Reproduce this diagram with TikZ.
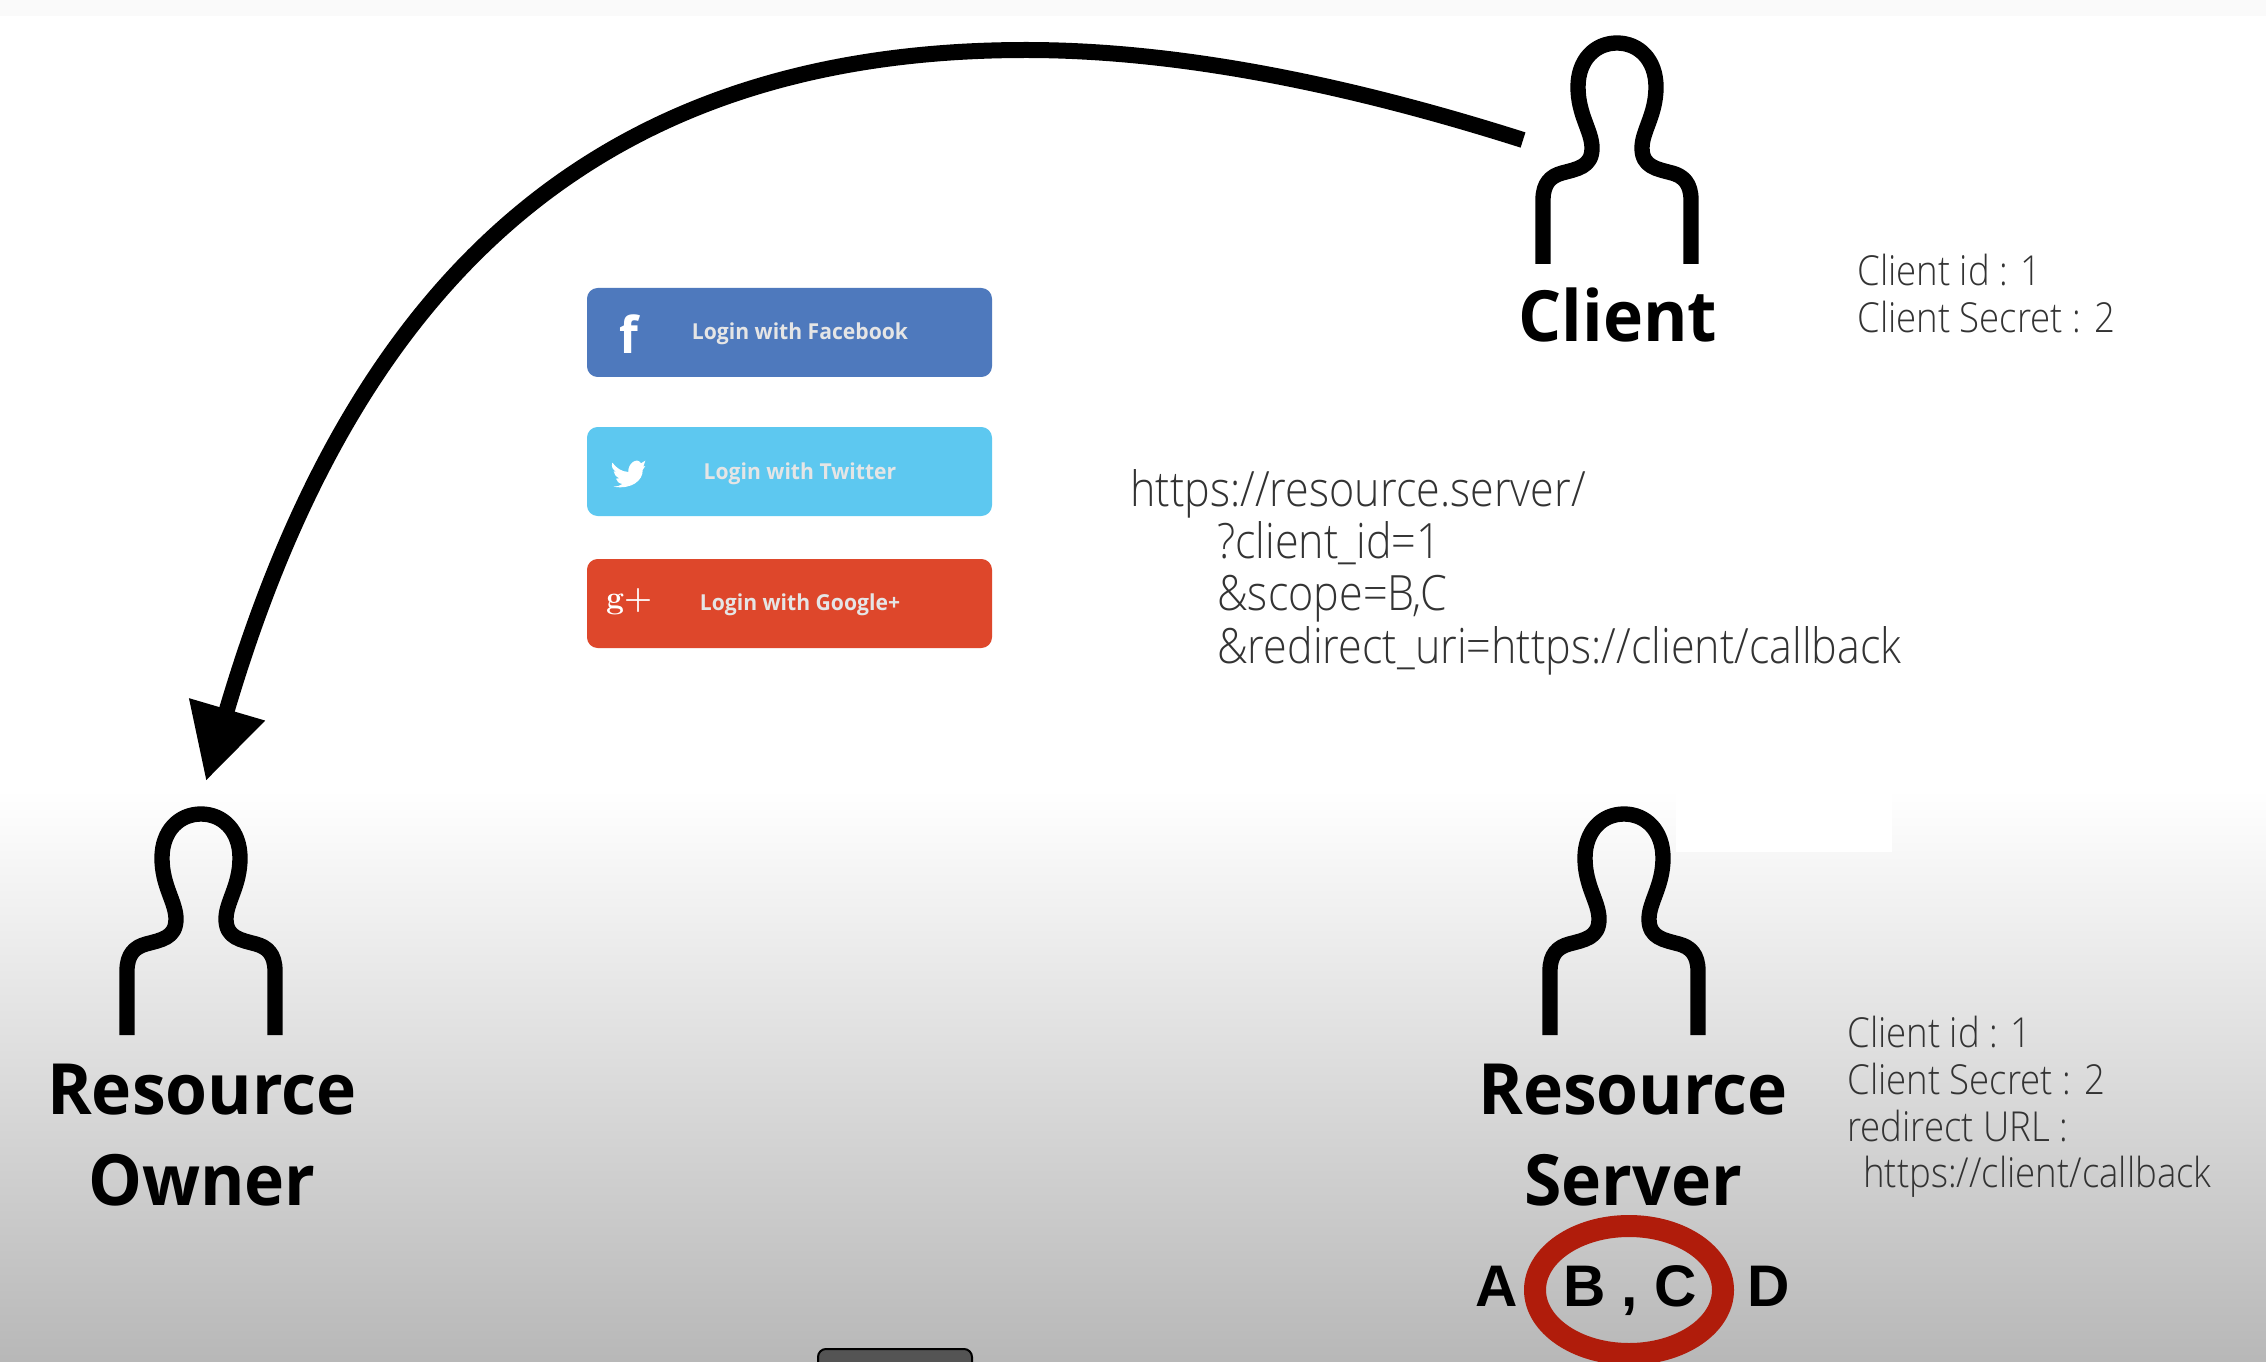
\documentclass[tikz,border=0pt]{standalone}
\usepackage{fontspec}
\usepackage{tikz}
\usetikzlibrary{arrows.meta}
\newfontfamily\headfont{Open Sans}[FakeStretch=0.96]
\newfontfamily\thinfont{Open Sans Light}[FakeStretch=0.885]
\newfontfamily\scopefont{Liberation Sans}
\newfontfamily\btnfont{Open Sans}[FakeStretch=0.96]
\definecolor{fbblue}{HTML}{4E79BD}
\definecolor{twblue}{HTML}{5DC8F0}
\definecolor{gpred}{HTML}{DE472B}
\definecolor{ringred}{HTML}{B01C0B}
\tikzset{
  person/.pic={
    \draw [line width=11.5pt,line join=round] (-74,229) -- (-74,165) .. controls (-74,148) and (-66,141) .. (-55,138) .. controls (-40,134) and (-25,132) .. (-25,113) .. controls (-25,96) and (-39,80) .. (-39,52) .. controls (-39,25) and (-22,8) .. (0,8) .. controls (22,8) and (39,25) .. (39,52) .. controls (39,80) and (25,96) .. (25,113) .. controls (25,132) and (40,134) .. (55,138) .. controls (66,141) and (74,148) .. (74,165) -- (74,229) ;
  },
  headlabel/.style={anchor=base,inner sep=0pt,font=\headfont\bfseries\fontsize{53}{60}\selectfont},
  infotext/.style={anchor=base west,inner sep=0pt,text=black!80,font=\thinfont\fontsize{31}{36}\selectfont},
  urltext/.style={anchor=base west,inner sep=0pt,text=black!80,font=\thinfont\fontsize{36.5}{40}\selectfont},
  scopeletter/.style={anchor=base,inner sep=0pt,font=\scopefont\bfseries\fontsize{44}{50}\selectfont},
  loginbtn/.style={rounded corners=8pt,draw=none},
  btntext/.style={inner sep=0pt,text=white!90!black,font=\btnfont\bfseries\fontsize{16.5}{20}\selectfont},
  btnicon/.style={inner sep=0pt,text=white,font=\btnfont\bfseries\fontsize{38}{42}\selectfont},
}
\begin{document}
\begin{tikzpicture}[x=0.75pt,y=0.75pt,yscale=-1,xscale=1]
\useasboundingbox (0,0) rectangle (2266,1362);
\clip (0,0) rectangle (2266,1362);

%Background
\fill [white] (0,0) rectangle (2266,1362);
\fill [black!2] (0,0) rectangle (2266,16);
\shade [top color=white,bottom color=black!28] (0,790) rectangle (2266,1362);
\fill [white] (1676,790) rectangle (1892,852);
\draw [line width=1.5pt,fill=black!67,rounded corners=6pt] (818,1349) rectangle (972,1390);

%Persons
\pic [yscale=-1] at (1617,35) {person};
\pic [yscale=-1] at (201,806) {person};
\pic [yscale=-1] at (1624,806) {person};

%Client to owner arrow
\coordinate (armstart) at (1523,140);
\coordinate (armtop) at (1026,50);
\coordinate (armend) at (206,781);
\draw [line width=12pt,-{Triangle[length=56pt,width=56pt]}] (armstart) .. controls (1350,85) and (1180,50) .. (armtop) .. controls (596,50) and (353,281) .. (armend) ;

%Login buttons
\fill [loginbtn,fbblue] (587,288) rectangle (992,377);
\fill [loginbtn,twblue] (587,427) rectangle (992,516);
\fill [loginbtn,gpred] (587,559) rectangle (992,648);
\node [btntext] (fbtext) at (800,334) {Login with Facebook};
\node [btntext] (twtext) at (800,474) {Login with Twitter};
\node [btntext] (gptext) at (800,605) {Login with Google+};
\node [btnicon] (fbicon) at (629,334) {f};
\node [btnicon,font=\rmfamily\bfseries\fontsize{24}{28}\selectfont] (gpicon) at (629,602) {g+};
%Bird
\begin{scope}[shift={(560,270)},scale=0.3333]
\fill [white] (157,578) .. controls (170,595) and (185,605) .. (205,606) .. controls (203,580) and (232,560) .. (243,580) -- (256,572) -- (250,590) -- (256,588) -- (248,600) .. controls (250,630) and (215,660) .. (160,650) .. controls (170,650) and (180,648) .. (187,642) .. controls (177,640) and (170,635) .. (168,626) -- (178,625) .. controls (168,620) and (161,612) .. (161,604) -- (170,606) .. controls (158,600) and (153,590) .. (157,578) -- cycle ;
\end{scope}

%Labels
\node [headlabel] (clientname) at (1618,342) {Client};
\node [headlabel] (ownerone) at (202,1114) {Resource};
\node [headlabel] (ownertwo) at (202,1205) {Owner};
\node [headlabel] (serverone) at (1633,1114) {Resource};
\node [headlabel] (servertwo) at (1633,1205) {Server};

\node [infotext] (clientid) at (1857,286) {Client id : 1};
\node [infotext] (clientsec) at (1857,333) {Client Secret : 2};

\node [urltext] (urlbase) at (1130,506) {https://resource.server/};
\node [urltext] (urlid) at (1217,558) {?client\_id=1};
\node [urltext] (urlscope) at (1217,610) {\&scope=B,C};
\node [urltext] (urlredir) at (1217,663) {\&redirect\_uri=https://client/callback};

\node [infotext] (serverid) at (1847,1047) {Client id : 1};
\node [infotext] (serversec) at (1847,1094) {Client Secret : 2};
\node [infotext] (serverurl) at (1847,1141) {redirect URL :};
\node [infotext] (servercb) at (1863,1187) {https://client/callback};

%Scopes
\draw [line width=16.5pt,ringred] (1629,1290) ellipse (94 and 64);
\node [scopeletter] (scopea) at (1497,1306) {A};
\node [scopeletter] (scopebc) at (1630,1306) {B , C};
\node [scopeletter] (scoped) at (1769,1306) {D};

\end{tikzpicture}
\end{document}
